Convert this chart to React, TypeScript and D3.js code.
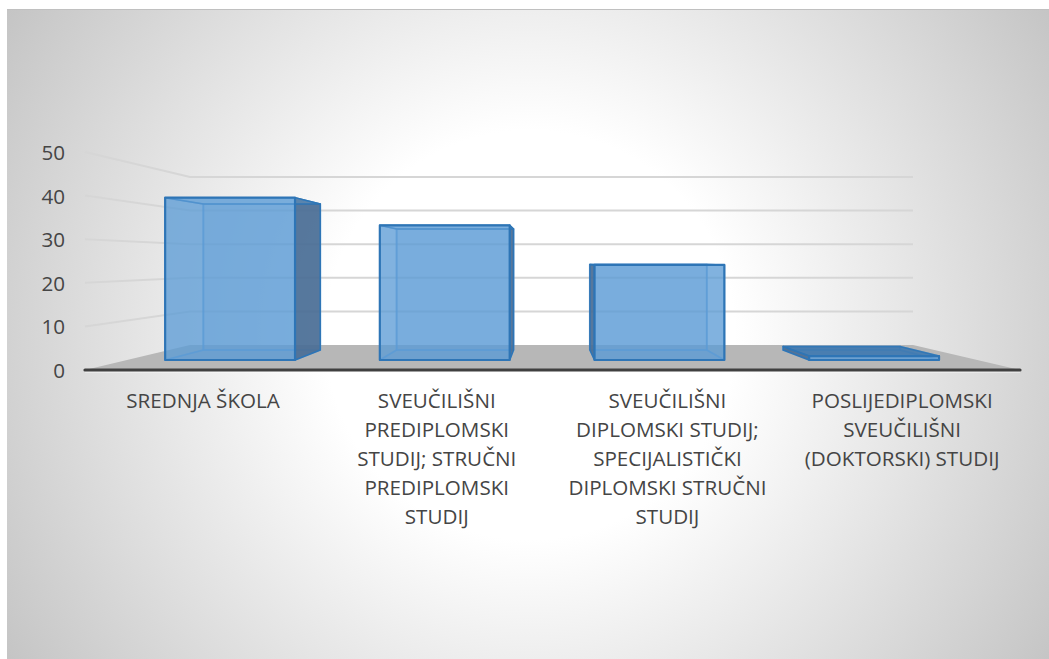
import React from "react";
import * as d3 from "d3";

const categoryLines: string[][] = [
  ["SREDNJA ŠKOLA"],
  ["SVEUČILIŠNI", "PREDIPLOMSKI", "STUDIJ; STRUČNI", "PREDIPLOMSKI", "STUDIJ"],
  ["SVEUČILIŠNI", "DIPLOMSKI STUDIJ;", "SPECIJALISTIČKI", "DIPLOMSKI STRUČNI", "STUDIJ"],
  ["POSLIJEDIPLOMSKI", "SVEUČILIŠNI", "(DOKTORSKI) STUDIJ"],
];
const values: number[] = [41, 34, 24, 1];
const yTicks: number[] = [0, 10, 20, 30, 40, 50];

const W = 1049;
const H = 659;
const FONT = "'Open Sans', 'Noto Sans', sans-serif";
const TEXT = "#454545";

// Simple depth projection: d=0 is the front of the floor, d=1 the back wall
const yFront = d3.scaleLinear().domain([0, 50]).range([370, 152]);
const yBack = d3.scaleLinear().domain([0, 50]).range([345, 177]);
const leftEdge = d3.scaleLinear().domain([0, 1]).range([85, 190]);
const rightEdge = d3.scaleLinear().domain([0, 1]).range([1020, 913]);
const band = d3
  .scaleBand<number>()
  .domain(values.map((_, i) => i))
  .range([-0.005, 1.005])
  .paddingInner(0.395)
  .paddingOuter(0.1975);

const px = (u: number, d: number) => leftEdge(d) + u * (rightEdge(d) - leftEdge(d));
const py = (v: number, d: number) => yFront(v) + d * (yBack(v) - yFront(v));
const P = (u: number, v: number, d: number): [number, number] => [px(u, d), py(v, d)];
const poly = d3.line<[number, number]>().curve(d3.curveLinearClosed);

const D_FRONT = 0.4;
const D_BACK = 0.8;
const BLUE = "#5b9bd5";
const EDGE = "#2e75b6";

function Bar({ i, value }: { i: number; value: number }) {
  const u0 = band(i)!;
  const u1 = u0 + band.bandwidth();
  const fbl = P(u0, 0, D_FRONT), fbr = P(u1, 0, D_FRONT), ftl = P(u0, value, D_FRONT), ftr = P(u1, value, D_FRONT);
  const bbl = P(u0, 0, D_BACK), bbr = P(u1, 0, D_BACK), btl = P(u0, value, D_BACK), btr = P(u1, value, D_BACK);
  const leftOuter = bbl[0] < fbl[0];
  const rightOuter = bbr[0] > fbr[0];
  const darkSide = "#4a6d94";
  return (
    <g strokeLinejoin="round">
      {/* inner faces */}
      <path d={poly([bbl, bbr, btr, btl])!} fill={BLUE} fillOpacity={0.35} stroke={BLUE} strokeOpacity={0.6} strokeWidth={2} />
      <path d={poly([fbl, fbr, bbr, bbl])!} fill={BLUE} fillOpacity={0.3} stroke={BLUE} strokeOpacity={0.6} strokeWidth={1.5} />
      <path
        d={poly([fbl, bbl, btl, ftl])!}
        fill={leftOuter ? darkSide : BLUE}
        fillOpacity={leftOuter ? 0.9 : 0.18}
        stroke={leftOuter ? EDGE : BLUE}
        strokeOpacity={leftOuter ? 1 : 0.6}
        strokeWidth={1.5}
      />
      <path
        d={poly([fbr, bbr, btr, ftr])!}
        fill={rightOuter ? darkSide : BLUE}
        fillOpacity={rightOuter ? 0.9 : 0.18}
        stroke={rightOuter ? EDGE : BLUE}
        strokeOpacity={rightOuter ? 1 : 0.6}
        strokeWidth={1.5}
      />
      <path d={poly([ftl, ftr, btr, btl])!} fill={value < 5 ? "#3b76ae" : BLUE} fillOpacity={value < 5 ? 0.85 : 0.3} stroke={EDGE} strokeOpacity={0.9} strokeWidth={1.5} />
      {/* front face */}
      <path d={poly([fbl, fbr, ftr, ftl])!} fill={BLUE} fillOpacity={0.72} stroke={EDGE} strokeWidth={2.2} />
    </g>
  );
}

export default function App() {
  const floor: [number, number][] = [P(0, 0, 0), P(0, 0, 1), P(1, 0, 1), P(1, 0, 0)];
  return (
    <svg width={W} height={H} viewBox={`0 0 ${W} ${H}`} style={{ position: "absolute", left: 0, top: 0, display: "block" }}>
      <defs>
        <radialGradient id="bg" gradientUnits="userSpaceOnUse" cx={530} cy={335} r={620}>
          <stop offset="0.33" stopColor="#ffffff" />
          <stop offset="1" stopColor="#c4c4c4" />
        </radialGradient>
      </defs>
      <rect x={0} y={0} width={W} height={H} fill="#ffffff" />
      <rect x={7} y={9} width={W - 7} height={H - 9} fill="url(#bg)" />
      <line x1={7} x2={W} y1={9.5} y2={9.5} stroke="#c0c0c0" strokeWidth={1} />

      {/* wall gridlines */}
      {yTicks.filter((t) => t > 0).map((t) => (
        <path
          key={t}
          d={`M${px(0, 0)},${py(t, 0)}L${px(0, 1)},${py(t, 1)}L${px(1, 1)},${py(t, 1)}`}
          fill="none"
          stroke="#d6d6d6"
          strokeWidth={2}
        />
      ))}

      {/* floor */}
      <path d={poly(floor)!} fill="#b7b7b7" />
      <line x1={px(0, 0)} x2={px(1, 0)} y1={372} y2={372} stroke="#ffffff" strokeOpacity={0.5} strokeWidth={1.5} />

      {values.map((v, i) => (
        <Bar key={i} i={i} value={v} />
      ))}

      {/* x axis line */}
      <line x1={px(0, 0)} x2={px(1, 0)} y1={370} y2={370} stroke="#404040" strokeWidth={3.2} strokeLinecap="round" />

      {/* y labels */}
      {yTicks.map((t) => (
        <text key={t} x={65} y={yFront(t) + 8} textAnchor="end" fontFamily={FONT} fontSize={20.6} fill={TEXT}>
          {t}
        </text>
      ))}

      {/* category labels */}
      {categoryLines.map((lines, i) => {
        const cx = px(band(i)! + band.bandwidth() / 2, 0.4) + [-27, -8, 8, 28][i];
        return (
          <text key={i} textAnchor="middle" fontFamily={FONT} fontSize={20.6} fill={TEXT}>
            {lines.map((l, j) => (
              <tspan key={j} x={cx} y={407.5 + j * 29.2}>
                {l}
              </tspan>
            ))}
          </text>
        );
      })}
    </svg>
  );
}
